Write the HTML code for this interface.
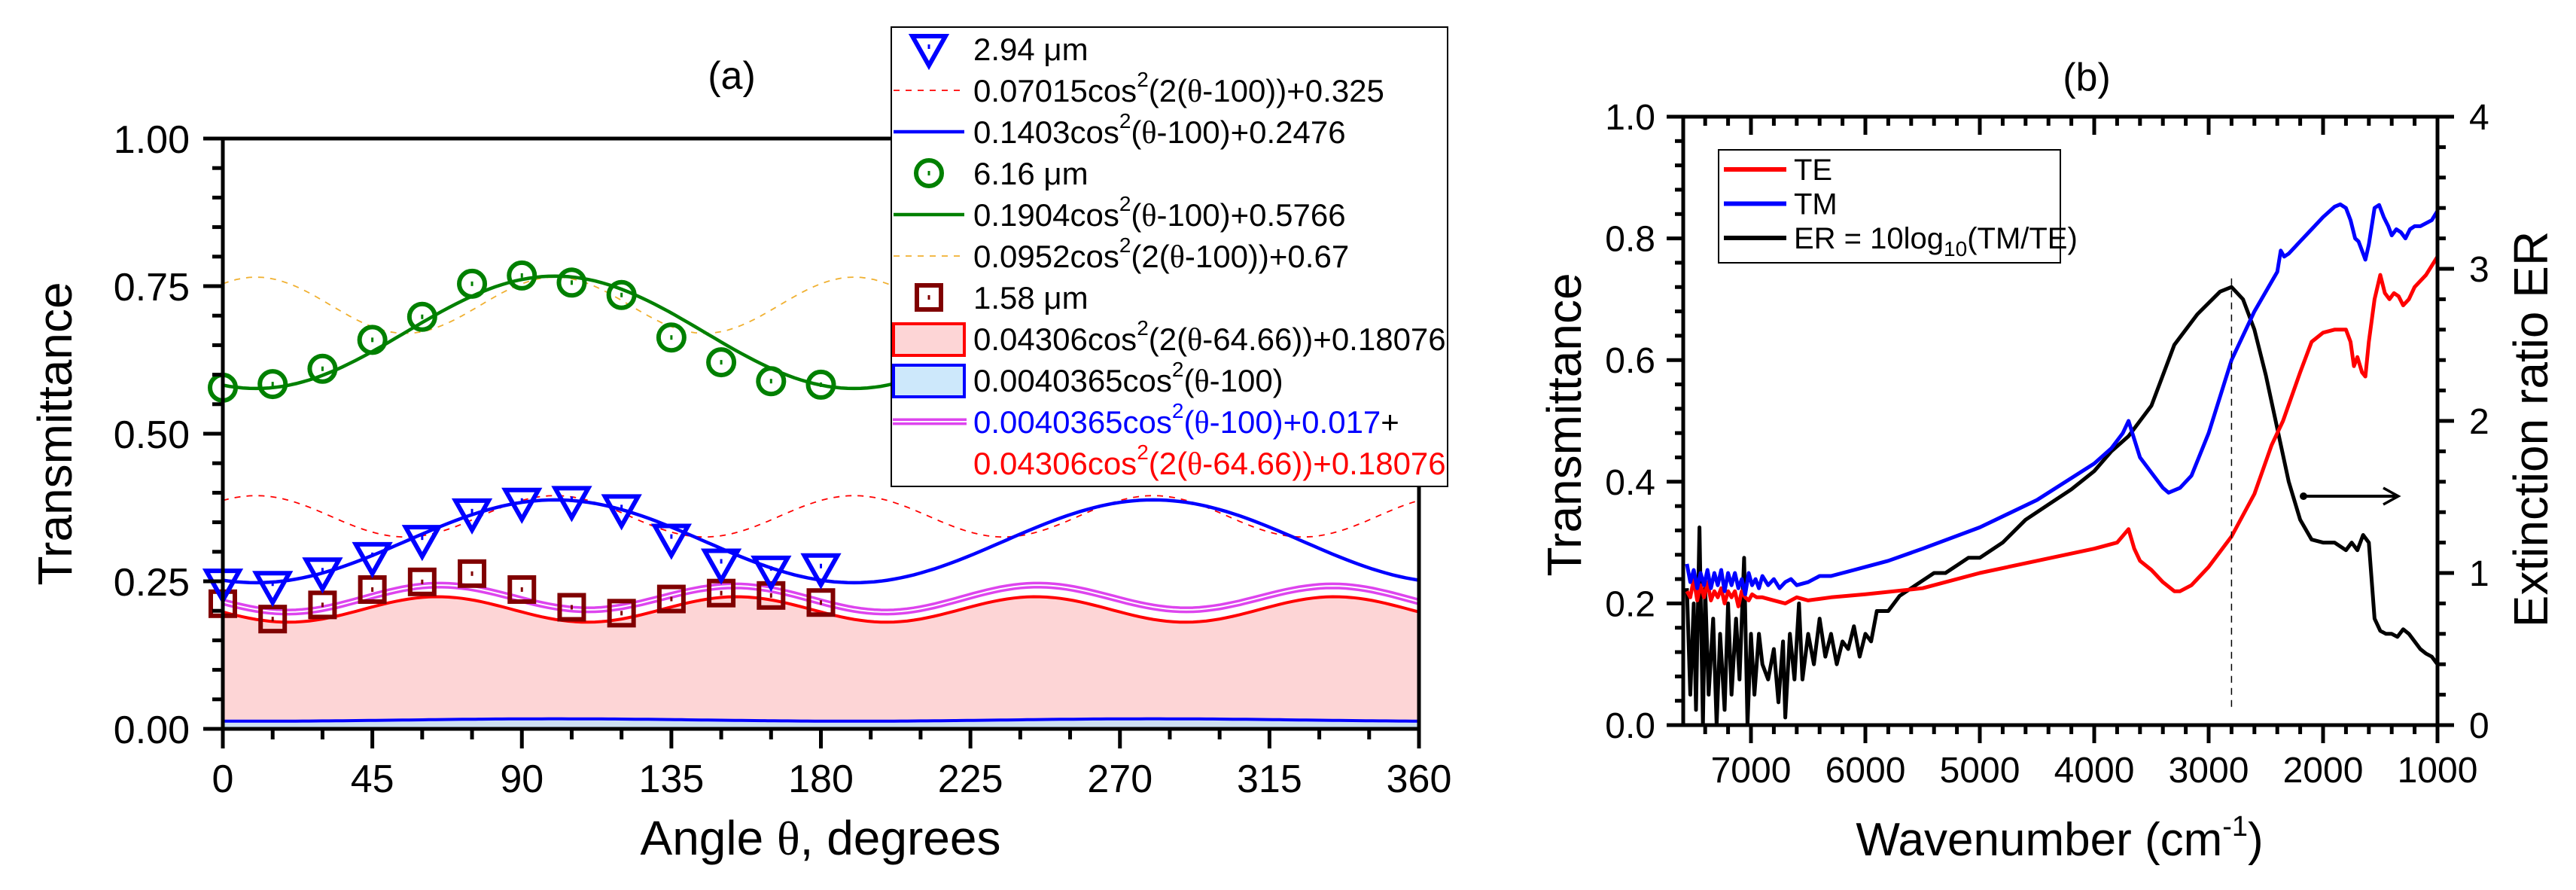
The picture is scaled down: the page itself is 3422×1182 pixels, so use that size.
<!DOCTYPE html>
<html><head><meta charset="utf-8"><style>
html,body{margin:0;padding:0;background:#fff;}
svg{display:block;font-family:"Liberation Sans",Arial,sans-serif;}
</style></head><body>
<svg id="fig" xmlns="http://www.w3.org/2000/svg" width="3422" height="1182" viewBox="0 0 3422 1182"></svg>
<script>
// ---------- Panel (a) data ----------
const angles = [0,15,30,45,60,75,90,105,120,135,150,165,180];
const tri294 = [0.246,0.242,0.265,0.291,0.320,0.365,0.383,0.386,0.372,0.322,0.280,0.268,0.272];
const circ616 = [0.578,0.584,0.610,0.659,0.698,0.754,0.768,0.756,0.735,0.663,0.621,0.589,0.583];
const sq158 = [0.212,0.186,0.210,0.236,0.249,0.263,0.236,0.206,0.196,0.220,0.230,0.226,0.214];
// fit parameters: [amplitude, frequency multiplier, phase, offset]
const fitBlueDash = [0.07015,2,100,0.325];
const fitBlue = [0.1403,1,100,0.2476];
const fitGreen = [0.1904,1,100,0.5766];
const fitOrangeDash = [0.0952,2,100,0.67];
const fitRedFill = [0.04306,2,64.66,0.18076];
const fitBlueFill = [0.0040365,1,100,0.013];
const magentaExtra = 0.017;
const aXTicks = [0,45,90,135,180,225,270,315,360];
const aYTicks = [0,0.25,0.5,0.75,1.0];
const aYTickLabels = ["0.00","0.25","0.50","0.75","1.00"];

// ---------- Panel (b) data ----------
const tmWn = [7560,7530,7500,7470,7440,7410,7380,7350,7320,7290,7260,7230,7200,7170,7140,7110,7080,7050,7020,6990,6960,6930,6900,6850,6800,6750,6700,6650,6600,6500,6400,6300,6200,6100,6000,5800,5500,5000,4500,4000,3850,3750,3700,3650,3600,3500,3400,3350,3250,3150,3000,2800,2600,2400,2370,2340,2300,2200,2100,2000,1900,1850,1800,1760,1720,1690,1650,1630,1600,1550,1510,1470,1430,1400,1360,1320,1280,1240,1200,1150,1100,1050,1000];
const tmVal = [0.265,0.235,0.255,0.225,0.25,0.23,0.255,0.225,0.25,0.23,0.255,0.22,0.25,0.23,0.25,0.225,0.24,0.215,0.25,0.23,0.24,0.225,0.245,0.23,0.24,0.225,0.235,0.24,0.23,0.235,0.245,0.245,0.25,0.255,0.26,0.27,0.29,0.325,0.37,0.43,0.455,0.48,0.50,0.47,0.44,0.415,0.39,0.382,0.39,0.41,0.48,0.60,0.68,0.745,0.78,0.77,0.775,0.795,0.815,0.835,0.852,0.856,0.85,0.83,0.80,0.795,0.775,0.765,0.79,0.85,0.855,0.835,0.82,0.805,0.815,0.81,0.80,0.815,0.82,0.82,0.825,0.83,0.845];
const teWn = [7560,7530,7500,7470,7440,7410,7380,7350,7320,7290,7260,7230,7200,7170,7140,7110,7080,7050,7020,6990,6950,6900,6800,6700,6600,6500,6300,6000,5500,5000,4500,4000,3800,3700,3650,3600,3500,3400,3300,3250,3150,3000,2800,2600,2450,2350,2200,2100,2000,1900,1800,1760,1730,1700,1660,1630,1600,1550,1500,1460,1420,1380,1340,1300,1250,1200,1100,1000];
const teVal = [0.22,0.21,0.24,0.205,0.23,0.21,0.235,0.205,0.22,0.21,0.225,0.20,0.22,0.21,0.22,0.195,0.22,0.21,0.205,0.215,0.21,0.21,0.205,0.20,0.21,0.205,0.21,0.215,0.225,0.25,0.27,0.29,0.30,0.322,0.29,0.27,0.255,0.235,0.22,0.22,0.23,0.26,0.31,0.38,0.46,0.50,0.58,0.63,0.645,0.65,0.65,0.63,0.59,0.605,0.58,0.573,0.63,0.70,0.74,0.71,0.70,0.71,0.705,0.69,0.70,0.72,0.74,0.77];
const erWn = [7560,7530,7500,7480,7450,7420,7400,7370,7330,7300,7270,7230,7200,7170,7130,7100,7060,7030,7000,6970,6930,6900,6850,6800,6760,6720,6700,6660,6620,6580,6550,6500,6450,6400,6350,6300,6250,6200,6150,6100,6050,6000,5950,5900,5800,5700,5600,5500,5400,5300,5200,5100,5000,4800,4600,4400,4200,4000,3850,3700,3650,3500,3300,3100,2900,2800,2700,2600,2500,2400,2300,2200,2100,2000,1900,1800,1750,1700,1650,1600,1550,1500,1450,1400,1350,1300,1250,1200,1150,1100,1050,1000];
const erVal = [0.9,0.2,0.8,0.1,1.3,0.0,0.9,0.2,0.7,0.0,0.6,0.1,0.8,0.2,0.7,0.3,1.1,0.0,0.6,0.2,0.6,0.4,0.3,0.5,0.15,0.55,0.05,0.6,0.3,0.8,0.3,0.6,0.4,0.7,0.45,0.6,0.4,0.55,0.5,0.65,0.45,0.6,0.55,0.75,0.75,0.85,0.9,0.95,1.0,1.0,1.05,1.1,1.1,1.2,1.35,1.45,1.55,1.67,1.8,1.9,1.95,2.1,2.5,2.7,2.85,2.88,2.8,2.6,2.3,1.95,1.6,1.35,1.22,1.2,1.2,1.15,1.2,1.15,1.25,1.2,0.7,0.62,0.6,0.6,0.58,0.63,0.6,0.55,0.5,0.47,0.45,0.4];
const bXTicks = [7000,6000,5000,4000,3000,2000,1000];
const bYTicks = [0,0.2,0.4,0.6,0.8,1.0];
const bYTickLabels = ["0.0","0.2","0.4","0.6","0.8","1.0"];
const bRTicks = [0,1,2,3,4];
const markerWn = 2800;

// ---------- helpers ----------
const NS="http://www.w3.org/2000/svg";
const svg=document.getElementById('fig');
function el(tag,attrs,parent){const e=document.createElementNS(NS,tag);for(const k in attrs)e.setAttribute(k,attrs[k]);(parent||svg).appendChild(e);return e;}
function txt(x,y,s,size,anchor,parent,extra){const t=el('text',Object.assign({x:x,y:y,'font-size':size,'text-anchor':anchor||'middle',fill:'#000'},extra||{}),parent);t.textContent=s;return t;}
const xa=t=>296+t*(1885-296)/360;
const ya=v=>968-784*v;
const xb=w=>3238-(w-1000)*0.152;
const yb=v=>963-808*v;
const yer=v=>963-202*v;
function fitVal(p,t){const c=Math.cos(p[1]*(t-p[2])*Math.PI/180);return p[0]*c*c+p[3];}
function fitPath(fn){let d='';for(let t=0;t<=360;t+=2){d+=(t?'L':'M')+xa(t).toFixed(1)+','+ya(fn(t)).toFixed(1);}return d;}

// ================= PANEL A =================
const ga=el('g',{});


let dFill=fitPath(t=>fitVal(fitRedFill,t))+'L'+xa(360)+','+ya(0)+'L'+xa(0)+','+ya(0)+'Z';
const pf=el('path',{d:dFill,fill:'#fdd5d6',stroke:'none'},ga);


let dBF=fitPath(t=>fitVal(fitBlueFill,t))+'L'+xa(360)+','+ya(0)+'L'+xa(0)+','+ya(0)+'Z';
const bfa=el('path',{d:dBF,fill:'#cde0f2',stroke:'none'},ga);


const bfl=el('path',{d:fitPath(t=>fitVal(fitBlueFill,t)),fill:'none',stroke:'#0000ff','stroke-width':4},ga);


const rfl=el('path',{d:fitPath(t=>fitVal(fitRedFill,t)),fill:'none',stroke:'#ff0000','stroke-width':4},ga);


const magFn=t=>fitVal(fitBlueFill,t)-fitBlueFill[3]+magentaExtra+fitVal(fitRedFill,t);
const m1=el('path',{d:fitPath(magFn),fill:'none',stroke:'#dd44ee','stroke-width':9},ga);


el('path',{d:fitPath(magFn),fill:'none',stroke:'#fff','stroke-width':2},ga);
const rd=el('path',{d:fitPath(t=>fitVal(fitBlueDash,t)),fill:'none',stroke:'#ff0000','stroke-width':1.8,'stroke-dasharray':'8,8'},ga);


const od=el('path',{d:fitPath(t=>fitVal(fitOrangeDash,t)),fill:'none',stroke:'#f0b030','stroke-width':1.8,'stroke-dasharray':'8,8'},ga);


const bl=el('path',{d:fitPath(t=>fitVal(fitBlue,t)),fill:'none',stroke:'#0000ff','stroke-width':4.5},ga);


const gl=el('path',{d:fitPath(t=>fitVal(fitGreen,t)),fill:'none',stroke:'#008000','stroke-width':4.5},ga);


function drawTri(x,y,g){el('path',{d:`M${x-22},${y-17}L${x+22},${y-17}L${x},${y+22}Z`,fill:'none',stroke:'#0000ff','stroke-width':6,'stroke-linejoin':'miter'},g);el('rect',{x:x-1.5,y:y-6,width:3,height:6,fill:'#0000ff'},g);}
function drawCirc(x,y,g){el('circle',{cx:x,cy:y,r:17,fill:'none',stroke:'#008000','stroke-width':6},g);el('rect',{x:x-1.5,y:y-3,width:3,height:6,fill:'#008000'},g);}
function drawSq(x,y,g,c){el('rect',{x:x-16,y:y-16,width:32,height:32,fill:'none',stroke:c||'#800000','stroke-width':6},g);el('rect',{x:x-1.5,y:y-3,width:3,height:6,fill:c||'#800000'},g);}
angles.forEach((a,i)=>{
  const g1=el('g',{},ga);
  
  
  drawSq(xa(a),ya(sq158[i]),g1, sq158[i]<fitVal(fitRedFill,a)?'#d07878':'#800000');
});
angles.forEach((a,i)=>{
  const g2=el('g',{},ga);
  
  
  drawTri(xa(a),ya(tri294[i]),g2);
});
angles.forEach((a,i)=>{
  const g3=el('g',{},ga);
  
  
  drawCirc(xa(a),ya(circ616[i]),g3);
});
const fa=el('rect',{x:xa(0),y:ya(1),width:xa(360)-xa(0),height:ya(0)-ya(1),fill:'none',stroke:'#000','stroke-width':5},ga);


for(let t=0;t<=360;t+=15){const maj=t%45===0;el('line',{x1:xa(t),x2:xa(t),y1:ya(0),y2:ya(0)+(maj?26:14),stroke:'#000','stroke-width':5},ga);}
for(let v=0;v<=1.0001;v+=0.05){const maj=Math.abs(v*4-Math.round(v*4))<1e-6;el('line',{x1:xa(0),x2:xa(0)-(maj?26:14),y1:ya(v),y2:ya(v),stroke:'#000','stroke-width':5},ga);}
aXTicks.forEach(t=>{const l=txt(xa(t),1052,String(t),52,'middle',ga);});
aYTicks.forEach((v,i)=>{const l=txt(252,ya(v)+19,aYTickLabels[i],52,'end',ga);});
const ta=txt(972,118,'(a)',52,'middle',ga);
const xta=el('text',{x:1090,y:1135,'font-size':64,'text-anchor':'middle'},ga);


xta.innerHTML='Angle <tspan font-family="Liberation Serif">θ</tspan>, degrees';
const yta=txt(0,0,'Transmittance',64,'middle',ga,{transform:'translate(95,576) rotate(-90)'});



const lg=el('g',{},ga);


el('rect',{x:1184,y:36,width:739,height:610,fill:'#fff',stroke:'#000','stroke-width':2},lg);
const rowY=i=>65+55*i;
const lx0=1187,lx1=1281,lxc=1234,tx=1293;
const TH='<tspan font-family="Liberation Serif">θ</tspan>';
const SUP='<tspan font-size="28" dy="-20">2</tspan><tspan dy="20">';
const rows=[
 ['tri','2.94 μm'],
 ['dash:#ff0000','0.07015cos'+SUP+'(2('+TH+'-100))+0.325</tspan>'],
 ['line:#0000ff','0.1403cos'+SUP+'('+TH+'-100)+0.2476</tspan>'],
 ['circ','6.16 μm'],
 ['line:#008000','0.1904cos'+SUP+'('+TH+'-100)+0.5766</tspan>'],
 ['dash:#f0b030','0.0952cos'+SUP+'(2('+TH+'-100))+0.67</tspan>'],
 ['sq','1.58 μm'],
 ['box:#fdd5d6:#ff0000','0.04306cos'+SUP+'(2('+TH+'-64.66))+0.18076</tspan>'],
 ['box:#cde8fb:#0000ff','0.0040365cos'+SUP+'('+TH+'-100)</tspan>'],
 ['mag','<tspan fill="#0000ff">0.0040365cos'+SUP+'('+TH+'-100)+0.017</tspan></tspan><tspan fill="#000">+</tspan>'],
 ['none','<tspan fill="#ff0000">0.04306cos'+SUP+'(2('+TH+'-64.66))+0.18076</tspan></tspan>']
];
rows.forEach((r,i)=>{
  const y=rowY(i);
  const g=el('g',{},lg);
  
  
  const k=r[0].split(':');
  if(k[0]==='tri')drawTri(lxc,y,g);
  else if(k[0]==='circ')drawCirc(lxc,y,g);
  else if(k[0]==='sq')drawSq(lxc,y,g);
  else if(k[0]==='dash')el('line',{x1:lx0,x2:lx1,y1:y,y2:y,stroke:k[1],'stroke-width':1.8,'stroke-dasharray':'8,8'},g);
  else if(k[0]==='line')el('line',{x1:lx0,x2:lx1,y1:y,y2:y,stroke:k[1],'stroke-width':4.5},g);
  else if(k[0]==='box')el('rect',{x:lx0,y:y-20,width:lx1-lx0,height:42,fill:k[1],stroke:k[2],'stroke-width':4},g);
  else if(k[0]==='mag'){el('line',{x1:1186,x2:1284,y1:y,y2:y,stroke:'#dd44ee','stroke-width':9},g);el('line',{x1:1186,x2:1284,y1:y,y2:y,stroke:'#fff','stroke-width':2},g);}
  const t=el('text',{x:tx,y:y+15,'font-size':42,fill:'#000'},g);
  t.innerHTML=r[1];
});

// ================= PANEL B =================
const gb=el('g',{});


function seriesPath(ws,vs,yf){return ws.map((w,i)=>(i?'L':'M')+xb(w).toFixed(1)+','+yf(vs[i]).toFixed(1)).join('');}
const erp=el('path',{d:seriesPath(erWn,erVal,yer),fill:'none',stroke:'#000','stroke-width':5,'stroke-linejoin':'round'},gb);


const tep=el('path',{d:seriesPath(teWn,teVal,yb),fill:'none',stroke:'#ff0000','stroke-width':5,'stroke-linejoin':'round'},gb);


const tmp=el('path',{d:seriesPath(tmWn,tmVal,yb),fill:'none',stroke:'#0000ff','stroke-width':5,'stroke-linejoin':'round'},gb);


const vl=el('line',{x1:xb(markerWn),x2:xb(markerWn),y1:yb(0.03),y2:yb(0.74),stroke:'#000','stroke-width':1.5,'stroke-dasharray':'9,7'},gb);


const ar=el('g',{},gb);


el('circle',{cx:3060,cy:659,r:5,fill:'#000'},ar);
el('line',{x1:3060,x2:3182,y1:659,y2:659,stroke:'#000','stroke-width':4},ar);
el('path',{d:'M3166,648L3186,659L3166,670',fill:'none',stroke:'#000','stroke-width':3.5},ar);
const fb=el('rect',{x:xb(7592),y:yb(1),width:xb(1000)-xb(7592),height:yb(0)-yb(1),fill:'none',stroke:'#000','stroke-width':5},gb);


for(let w=1000;w<=7500;w+=200){const maj=w%1000===0;
  el('line',{x1:xb(w),x2:xb(w),y1:yb(0),y2:yb(0)+(maj?24:12),stroke:'#000','stroke-width':5},gb);
  el('line',{x1:xb(w),x2:xb(w),y1:yb(1),y2:yb(1)+(maj?24:12),stroke:'#000','stroke-width':5},gb);}
for(let i=0;i<=25;i++){const v=i*0.04;const maj=i%5===0;el('line',{x1:xb(7592),x2:xb(7592)-(maj?22:11),y1:yb(v),y2:yb(v),stroke:'#000','stroke-width':5},gb);}
for(let i=0;i<=20;i++){const v=i*0.2;const maj=i%5===0;el('line',{x1:xb(1000),x2:xb(1000)+(maj?22:11),y1:yer(v),y2:yer(v),stroke:'#000','stroke-width':5},gb);}
bXTicks.forEach(w=>{const l=txt(xb(w),1039,String(w),48,'middle',gb);});
bYTicks.forEach((v,i)=>{const l=txt(2199,yb(v)+17,bYTickLabels[i],48,'end',gb);});
bRTicks.forEach(v=>{const l=txt(3280,yer(v)+17,String(v),48,'start',gb);});
const tb=txt(2772,120,'(b)',52,'middle',gb);
const xtb=el('text',{x:2736,y:1136,'font-size':62,'text-anchor':'middle'},gb);


xtb.innerHTML='Wavenumber (cm<tspan font-size="38" dy="-26">-1</tspan><tspan dy="26">)</tspan>';
const ytb=txt(0,0,'Transmittance',64,'middle',gb,{transform:'translate(2100,564) rotate(-90)'});


const rtb=txt(0,0,'Extinction ratio ER',64,'middle',gb,{transform:'translate(3384,570) rotate(-90)'});


const lb=el('g',{},gb);


el('rect',{x:2283,y:199,width:454,height:150,fill:'#fff',stroke:'#000','stroke-width':2},lb);
[['#ff0000','TE'],['#0000ff','TM'],['#000','ER = 10log<tspan font-size="28" dy="10">10</tspan><tspan dy="-10">(TM/TE)</tspan>']].forEach((r,i)=>{
  const y=225+45.5*i;
  const g=el('g',{},lb);
  
  
  el('line',{x1:2290,x2:2373,y1:y,y2:y,stroke:r[0],'stroke-width':6},g);
  const t=el('text',{x:2383,y:y+14,'font-size':40},g);t.innerHTML=r[1];
});
</script>
</body></html>
